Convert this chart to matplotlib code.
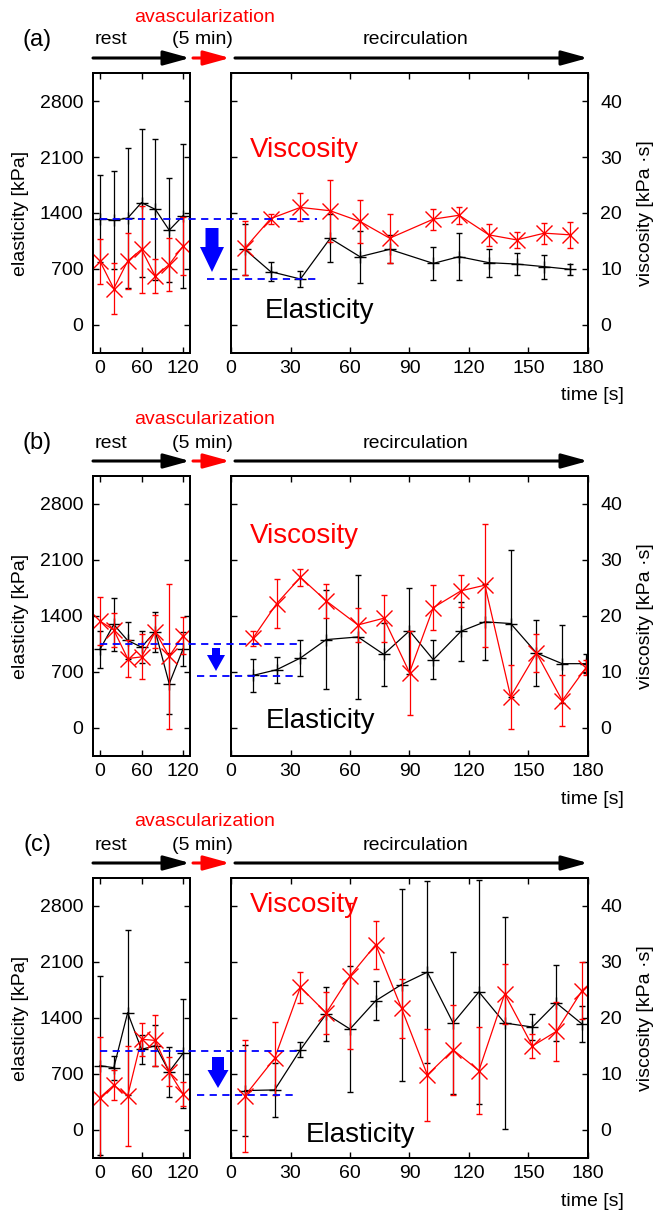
import matplotlib
matplotlib.use('Agg')
import matplotlib.pyplot as plt
from matplotlib.patches import FancyArrowPatch, FancyArrow
from matplotlib.lines import Line2D
from matplotlib import transforms

plt.rcParams['font.family'] = ['Liberation Sans', 'DejaVu Sans']

W, H = 656, 1211

# ---------------- data ----------------
rest_t = [0, 20, 40, 60, 80, 100, 120]
el_ticks = [0, 700, 1400, 2100, 2800]
vis_ticks = [0, 10, 20, 30, 40]
rest_xticks = [0, 60, 120]
rec_xticks = [0, 30, 60, 90, 120, 150, 180]

# panel (a)
a_rest_el = [1330, 1310, 1335, 1530, 1445, 1185, 1365]
a_rest_el_err = [540, 610, 875, 925, 880, 650, 900]
a_rest_vis = [11.4, 6.5, 11.4, 13.5, 8.7, 10.8, 14.1]
a_rest_vis_err = [4.0, 4.6, 5.0, 7.7, 3.0, 4.7, 5.1]
a_rec_t = [7, 20, 35, 50, 65, 80, 102, 115, 130, 144, 158, 171]
a_rec_el = [945, 667, 575, 1083, 854, 946, 770, 854, 779, 762, 729, 696]
a_rec_el_err = [315, 117, 98, 300, 325, 175, 205, 292, 175, 136, 150, 65]
a_rec_vis_t = a_rec_t
a_rec_vis = [13.7, 19.0, 21.0, 20.4, 18.5, 15.5, 18.9, 19.6, 16.1, 15.2, 16.4, 16.1]
a_rec_vis_err = [4.85, 0.9, 2.5, 5.5, 3.9, 4.4, 1.9, 1.5, 2.0, 1.4, 1.9, 2.3]
a_levels = [1330, 580]

# panel (b)
b_rest_el = [982, 1294, 1094, 1011, 1206, 553, 990]
b_rest_el_err = [230, 330, 235, 200, 250, 380, 210]
b_rest_vis = [19.1, 17.5, 12.4, 12.7, 17.2, 12.8, 16.5]
b_rest_vis_err = [4.3, 3.1, 3.3, 4.0, 2.9, 13.0, 3.3]
b_rec_t = [11, 23, 35, 48, 64, 77, 90, 102, 116, 128, 141, 154, 167, 179]
b_rec_el = [657, 728, 875, 1105, 1138, 921, 1214, 854, 1210, 1327, 1306, 938, 804, 804]
b_rec_el_err = [210, 160, 230, 620, 777, 395, 537, 245, 370, 475, 917, 408, 487, 121]
b_rec_vis_t = b_rec_t
b_rec_vis = [16.0, 22.2, 26.9, 22.7, 18.4, 19.6, 9.9, 21.5, 24.5, 25.5, 5.6, 13.4, 4.9, 10.8]
b_rec_vis_err = [1.4, 4.35, 1.5, 3.1, 3.0, 4.2, 7.5, 4.0, 2.85, 11.0, 5.7, 3.4, 4.5, 1.35]
b_levels = [1050, 650]

# panel (c)
c_rest_el = [804, 779, 1467, 1008, 1054, 729, 958]
c_rest_el_err = [1120, 150, 1030, 185, 260, 312, 678]
c_rest_vis = [5.8, 8.0, 6.1, 16.2, 16.0, 10.4, 6.4]
c_rest_vis_err = [10.8, 2.7, 8.9, 2.95, 4.5, 2.55, 2.2]
c_rec_t = [7, 22, 35, 48, 60, 73, 86, 99, 112, 125, 138, 152, 164, 177]
c_rec_el = [493, 501, 1003, 1450, 1262, 1617, 1818, 1973, 1337, 1726, 1337, 1287, 1588, 1325]
c_rec_el_err = [570, 335, 93, 340, 790, 242, 1200, 1140, 892, 1395, 1325, 157, 470, 225]
c_rec_vis_t = [7, 22, 35, 48, 60, 73, 86, 99, 112, 125, 138, 152, 164, 177, 190]
c_rec_vis = [6.1, 12.8, 25.5, 20.9, 27.5, 33.1, 21.7, 9.85, 14.3, 10.6, 24.3, 15.0, 17.6, 24.9, 29.0]
c_rec_vis_err = [10.0, 6.5, 2.75, 3.75, 13.0, 4.3, 5.2, 8.2, 8.1, 7.8, 5.4, 2.1, 5.2, 5.1, 4.0]
c_levels = [990, 440]

# ---------------- figure ----------------
fig = plt.figure(figsize=(W / 100, H / 100), dpi=100)
ov = fig.add_axes([0, 0, 1, 1], zorder=10)
ov.set_xlim(0, W)
ov.set_ylim(H, 0)
ov.set_autoscale_on(False)
ov.axis('off')

FS = 14
SPW = 1.4


def style_axes(ax):
    for s in ax.spines.values():
        s.set_linewidth(SPW)


def panel(top, label, rest_el, rest_el_err, rest_vis, rest_vis_err,
          rec_t, rec_el, rec_el_err, rec_vis_t, rec_vis, rec_vis_err,
          levels, dash_up, dash_lo, barrow, vis_y, el_pos):
    off = top - 73
    hgt = 280
    axL = fig.add_axes([93 / W, 1 - (top + hgt) / H, 97 / W, hgt / H])
    axR = fig.add_axes([231 / W, 1 - (top + hgt) / H, 357 / W, hgt / H])
    axLv = axL.twinx()
    axRv = axR.twinx()
    for ax in (axL, axR):
        ax.set_ylim(-350, 3150)
        ax.set_yticks(el_ticks)
    for ax in (axLv, axRv):
        ax.set_ylim(-5, 45)
    axL.set_xlim(-10, 130)
    axL.set_xticks(rest_xticks)
    axR.set_xlim(0, 180)
    axR.set_xticks(rec_xticks)
    axLv.set_yticks([])
    axRv.set_yticks(vis_ticks)

    axL.tick_params(direction='in', length=4, width=1, top=True, right=True,
                    labelsize=FS)
    axL.tick_params(axis='y', pad=7)
    axL.tick_params(axis='x', pad=5)
    axR.tick_params(direction='in', length=4, width=1, top=True, left=True,
                    labelleft=False, labelsize=FS, pad=5)
    axRv.tick_params(direction='in', length=4, width=1, labelsize=FS, pad=9)
    for ax in (axL, axR, axLv, axRv):
        style_axes(ax)

    kw = dict(lw=0.9, elinewidth=0.9, capsize=2)
    axL.errorbar(rest_t, rest_el, yerr=rest_el_err, color='black', marker='+',
                 ms=9, mew=1.0, **kw)
    axLv.errorbar(rest_t, rest_vis, yerr=rest_vis_err, color='red', marker='x',
                  ms=11, mew=1.0, **kw)
    axR.errorbar(rec_t, rec_el, yerr=rec_el_err, color='black', marker='+',
                 ms=9, mew=1.0, **kw)
    axRv.errorbar(rec_vis_t, rec_vis, yerr=rec_vis_err, color='red', marker='x',
                  ms=11, mew=1.0, **kw)

    # dashed reference levels (x in figure pixels, y in elasticity data)
    blend = transforms.blended_transform_factory(ov.transData, axL.transData)
    for (x0, x1), lvl in zip((dash_up, dash_lo), levels):
        ov.add_line(Line2D([x0, x1], [lvl, lvl], transform=blend, color='blue',
                           lw=1.3, ls=(0, (4, 3)), clip_on=False))

    # blue down arrow
    bx, by0, by1, sw, hw, hl = barrow
    ov.add_patch(FancyArrow(bx, by0 + off, 0, by1 - by0, width=sw, head_width=hw,
                            head_length=hl, length_includes_head=True,
                            color='blue', lw=0))

    # timeline arrows
    ya = 58 + off
    for (x0, x1, c) in ((93, 190, 'black'), (193, 230, 'red'), (235, 588, 'black')):
        ov.add_patch(FancyArrowPatch((x0, ya), (x1, ya),
                                     arrowstyle='-|>,head_length=0.8,head_width=0.22',
                                     mutation_scale=20, lw=2.2, color=c,
                                     shrinkA=0, shrinkB=0))

    # texts
    ov.text(37, 40 + off, label, fontsize=17, ha='center', va='center')
    ov.text(95, 40 + off, 'rest', fontsize=FS, ha='left', va='center')
    ov.text(202, 40 + off, '(5 min)', fontsize=FS, ha='center', va='center')
    ov.text(205, 17 + off, 'avascularization', fontsize=FS, color='red',
            ha='center', va='center')
    ov.text(415, 40 + off, 'recirculation', fontsize=FS, ha='center', va='center')
    ov.text(21, 213 + off, 'elasticity [kPa]', fontsize=FS, rotation=90,
            ha='center', va='center')
    ov.text(646, 213 + off, 'viscosity [kPa \u00b7s]', fontsize=FS, rotation=90,
            ha='center', va='center')
    ov.text(592, 396 + off, 'time [s]', fontsize=FS, ha='center', va='center')
    ov.text(250, vis_y, 'Viscosity', fontsize=20, color='red', ha='left',
            va='baseline')
    ov.text(el_pos[0], el_pos[1], 'Elasticity', fontsize=20, color='black',
            ha='left', va='baseline')


panel(73, '(a)', a_rest_el, a_rest_el_err, a_rest_vis, a_rest_vis_err,
      a_rec_t, a_rec_el, a_rec_el_err, a_rec_vis_t, a_rec_vis, a_rec_vis_err,
      a_levels, (100, 317), (207, 317), (212, 228, 272, 13, 24, 25),
      157, (265, 318))
panel(476, '(b)', b_rest_el, b_rest_el_err, b_rest_vis, b_rest_vis_err,
      b_rec_t, b_rec_el, b_rec_el_err, b_rec_vis_t, b_rec_vis, b_rec_vis_err,
      b_levels, (100, 297), (197, 297), (216, 245, 268, 8, 18, 16),
      543, (266, 728))
panel(878, '(c)', c_rest_el, c_rest_el_err, c_rest_vis, c_rest_vis_err,
      c_rec_t, c_rec_el, c_rec_el_err, c_rec_vis_t, c_rec_vis, c_rec_vis_err,
      c_levels, (100, 300), (197, 295), (218, 252, 283, 12, 21, 18),
      912, (306, 1142))

fig.savefig('out.png', dpi=100)
